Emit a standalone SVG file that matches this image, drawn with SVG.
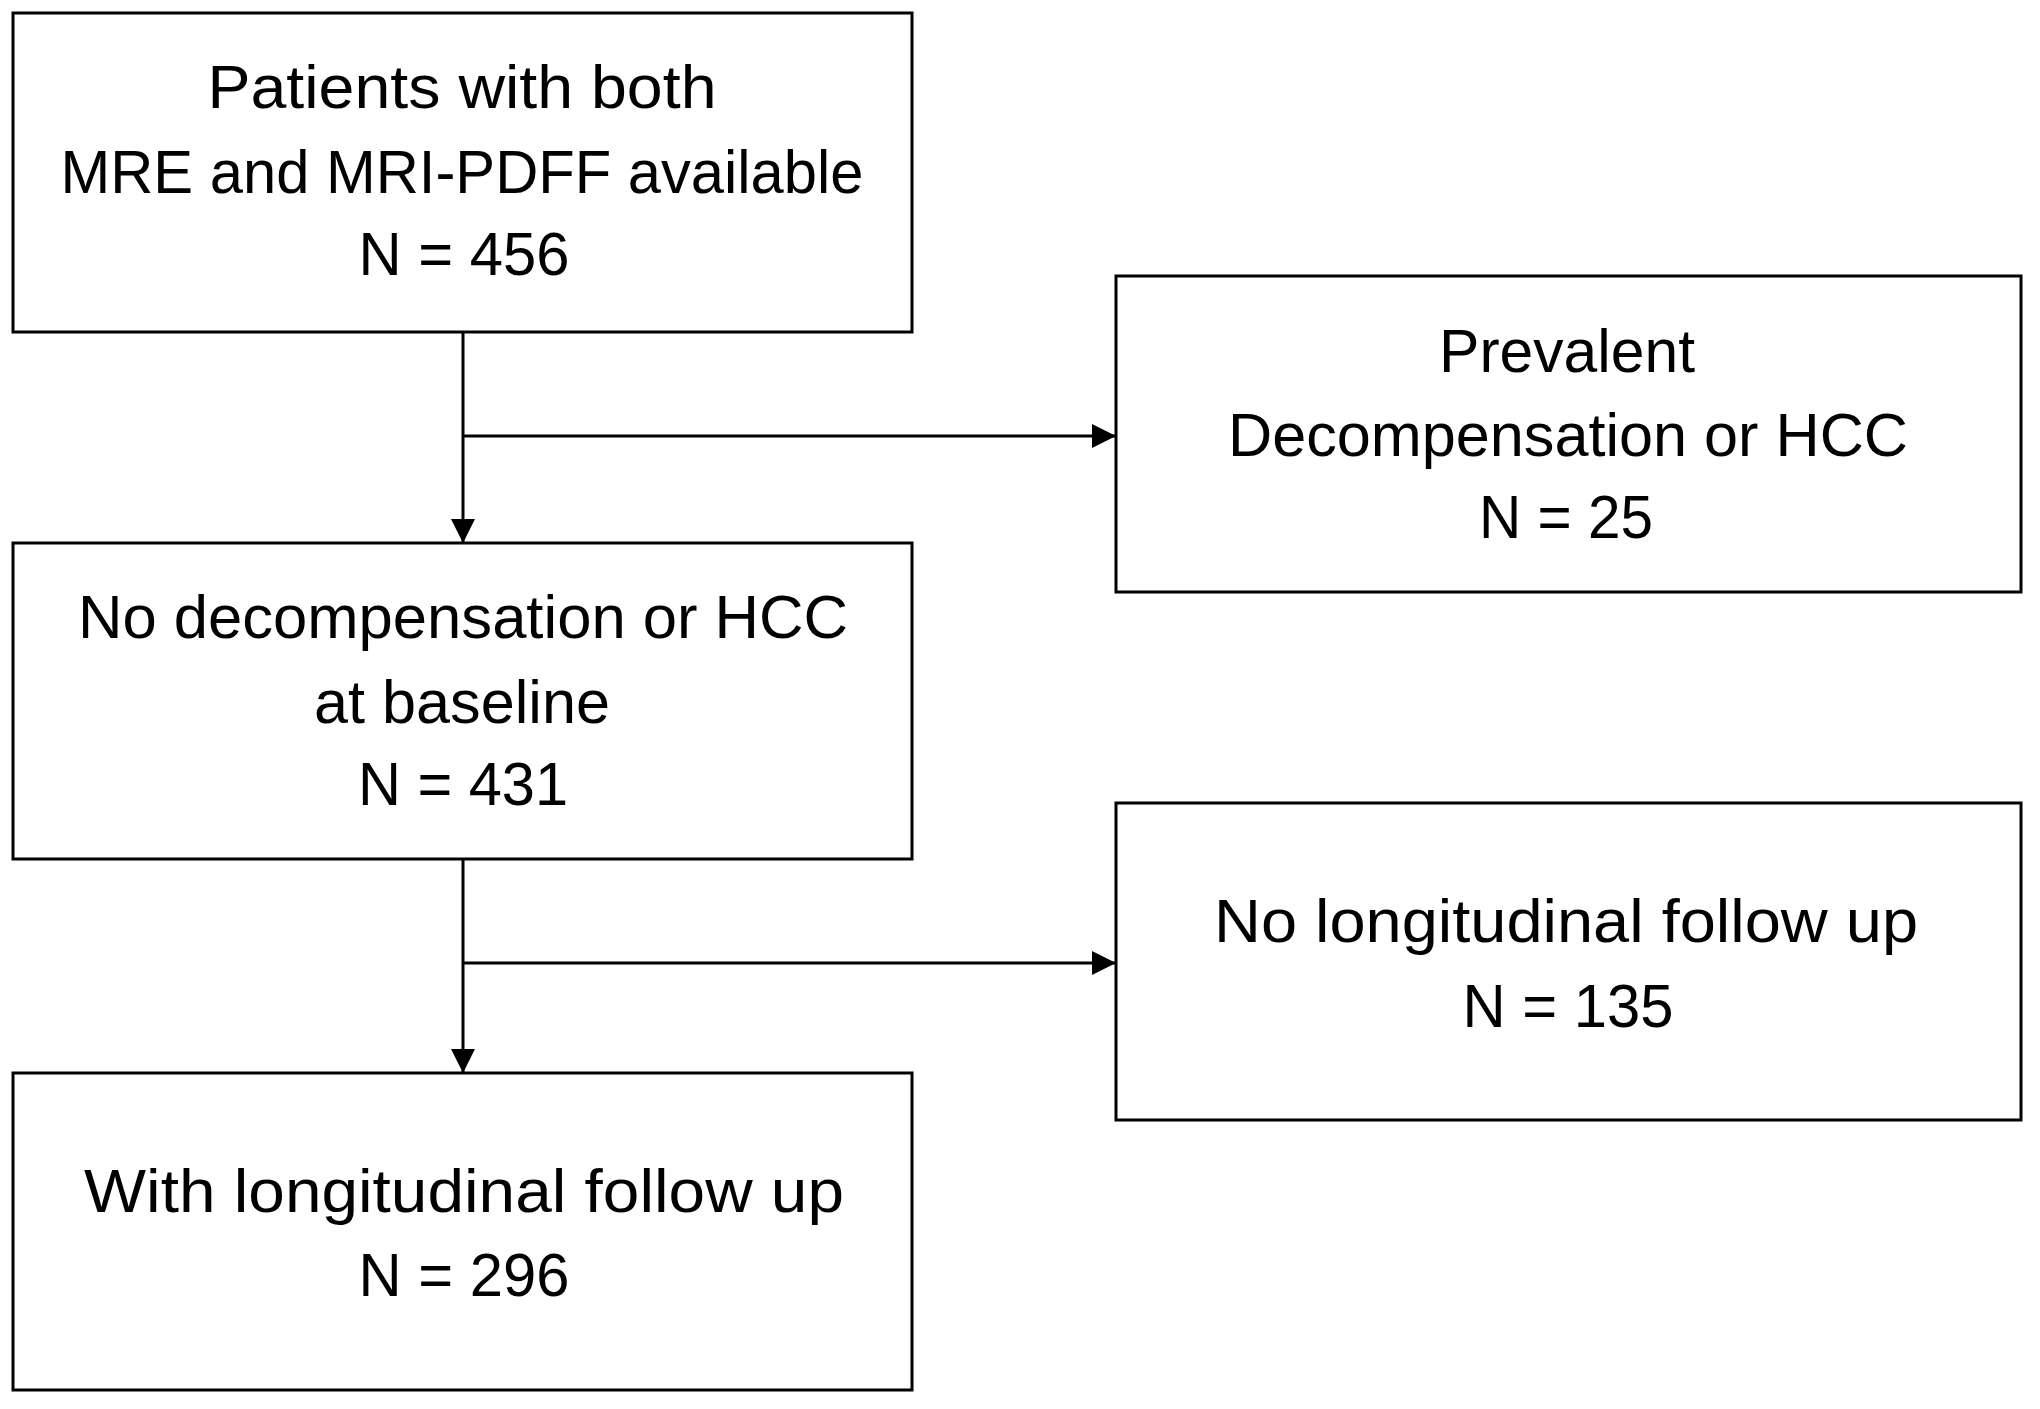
<svg xmlns="http://www.w3.org/2000/svg" width="2040" height="1409" viewBox="0 0 2040 1409">
<style>
.box{fill:#fff;stroke:#000;stroke-width:3}
.t{font-family:"Liberation Sans",Arial,sans-serif;font-size:61px;fill:#000;text-anchor:middle}
.c{stroke:#000;stroke-width:3;fill:none}
</style>
<defs>
<marker id="ah" markerUnits="userSpaceOnUse" markerWidth="24" markerHeight="24" refX="24" refY="12" orient="auto" viewBox="0 0 24 24">
<path d="M0,0 L24,12 L0,24 z" fill="#000"/>
</marker>
</defs>
<rect width="2040" height="1409" fill="#fff"/>
<g id="connectors">
<line class="c" x1="463" y1="332" x2="463" y2="543" marker-end="url(#ah)"/>
<line class="c" x1="463" y1="436" x2="1116" y2="436" marker-end="url(#ah)"/>
<line class="c" x1="463" y1="859" x2="463" y2="1073" marker-end="url(#ah)"/>
<line class="c" x1="463" y1="963" x2="1116" y2="963" marker-end="url(#ah)"/>
</g>
<g id="n1">
<rect class="box" x="13" y="13" width="899" height="319"/>
<text class="t" x="462" y="108" textLength="509" lengthAdjust="spacingAndGlyphs">Patients with both</text>
<text class="t" x="462" y="193" textLength="803" lengthAdjust="spacingAndGlyphs">MRE and MRI-PDFF available</text>
<text class="t" x="464" y="275" textLength="211" lengthAdjust="spacingAndGlyphs">N = 456</text>
</g>
<g id="n2">
<rect class="box" x="1116" y="276" width="905" height="316"/>
<text class="t" x="1567" y="372" textLength="256" lengthAdjust="spacingAndGlyphs">Prevalent</text>
<text class="t" x="1568" y="456" textLength="680" lengthAdjust="spacingAndGlyphs">Decompensation or HCC</text>
<text class="t" x="1566" y="538" textLength="174" lengthAdjust="spacingAndGlyphs">N = 25</text>
</g>
<g id="n3">
<rect class="box" x="13" y="543" width="899" height="316"/>
<text class="t" x="463" y="638" textLength="770" lengthAdjust="spacingAndGlyphs">No decompensation or HCC</text>
<text class="t" x="462" y="723" textLength="296" lengthAdjust="spacingAndGlyphs">at baseline</text>
<text class="t" x="463" y="805" textLength="210" lengthAdjust="spacingAndGlyphs">N = 431</text>
</g>
<g id="n4">
<rect class="box" x="1116" y="803" width="905" height="317"/>
<text class="t" x="1566" y="942" textLength="704" lengthAdjust="spacingAndGlyphs">No longitudinal follow up</text>
<text class="t" x="1568" y="1027" textLength="211" lengthAdjust="spacingAndGlyphs">N = 135</text>
</g>
<g id="n5">
<rect class="box" x="13" y="1073" width="899" height="317"/>
<text class="t" x="464" y="1212" textLength="760" lengthAdjust="spacingAndGlyphs">With longitudinal follow up</text>
<text class="t" x="464" y="1296" textLength="211" lengthAdjust="spacingAndGlyphs">N = 296</text>
</g>
</svg>
